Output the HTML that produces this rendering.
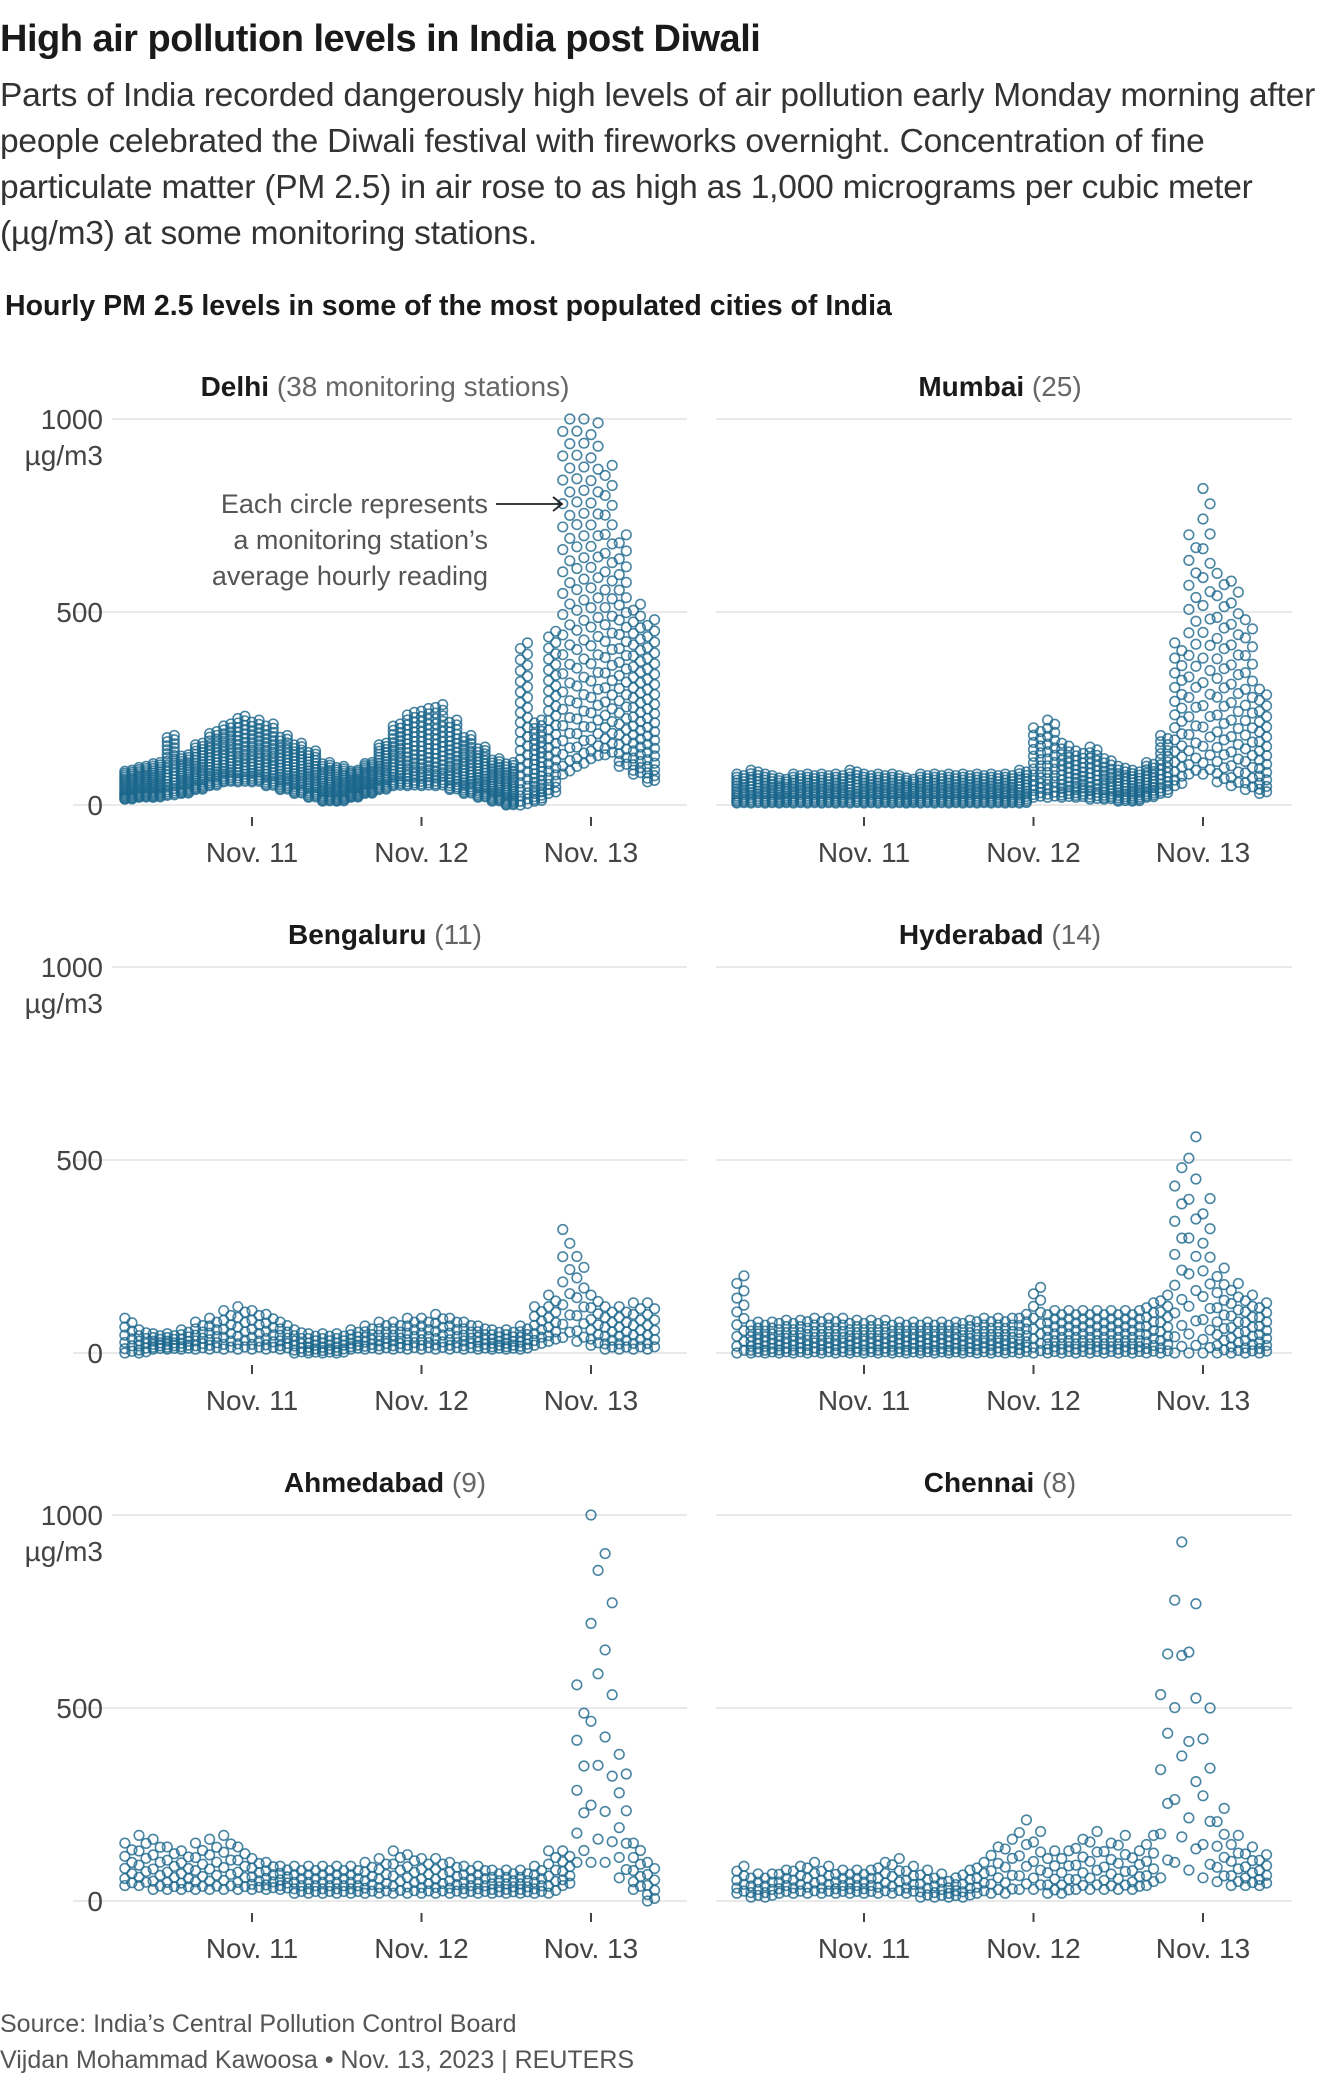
<!DOCTYPE html>
<html><head><meta charset="utf-8">
<style>
html,body{margin:0;padding:0;background:#fff;}
body{width:1320px;height:2098px;position:relative;overflow:hidden;font-family:"Liberation Sans",sans-serif;color:#222;}
.t{position:absolute;left:0;white-space:nowrap;}
</style></head><body>
<div class="t" style="top:18px;font-size:38px;font-weight:bold;color:#1a1a1a;letter-spacing:-0.5px;">High air pollution levels in India post Diwali</div>
<div class="t" style="top:73px;font-size:33.5px;line-height:46px;color:#333;letter-spacing:-0.2px;">Parts of India recorded dangerously high levels of air pollution early Monday morning after<br>people celebrated the Diwali festival with fireworks overnight. Concentration of fine<br>particulate matter (PM 2.5) in air rose to as high as 1,000 micrograms per cubic meter<br>(µg/m3) at some monitoring stations.</div>
<div class="t" style="top:290px;left:5px;font-size:28.5px;font-weight:bold;color:#1a1a1a;">Hourly PM 2.5 levels in some of the most populated cities of India</div>
<div class="t" style="top:2010px;font-size:25px;color:#555;">Source: India’s Central Pollution Control Board</div>
<div class="t" style="top:2046px;font-size:25px;color:#555;">Vijdan Mohammad Kawoosa • Nov. 13, 2023 | REUTERS</div>
<svg id="chart" width="1320" height="2098" style="position:absolute;left:0;top:0;" xmlns="http://www.w3.org/2000/svg"></svg>
<script>
// Data: 2-hourly readings starting Nov 10 06:00 (hours since Nov 10 00:00)
const startHour = 6;
const stepHours = 2;
const cities = ["Delhi","Mumbai","Bengaluru","Hyderabad","Ahmedabad","Chennai"];
const stations = [38,25,11,14,9,8];
const dayLabels = ["Nov. 11","Nov. 12","Nov. 13"];
const yTicks = [0,500,1000];
const delhiLow  = [15,20,20,25,30,40,50,60,60,60,50,40,30,20,10,10,20,30,40,50,50,50,50,40,30,20,10,0,0,10,30,80,100,120,130,100,80,60];
const delhiHigh = [90,100,110,180,130,160,190,210,230,220,210,180,160,140,110,100,90,110,160,210,240,250,260,220,180,150,120,110,420,220,450,1000,1000,990,880,700,520,480];
const mumbaiLow  = [5,5,5,5,5,5,5,5,5,5,5,5,5,5,5,5,5,5,5,5,5,20,20,20,20,15,15,10,10,20,30,50,80,80,60,50,40,30];
const mumbaiHigh = [80,90,80,70,80,80,80,80,90,80,80,80,70,80,80,80,80,80,80,80,90,200,220,160,140,150,120,100,90,110,180,420,700,820,600,580,480,300];
const bengaluruLow  = [0,0,10,10,10,10,10,10,10,10,10,10,0,0,0,0,10,10,10,10,10,10,10,10,10,10,10,10,10,20,30,40,30,20,10,10,10,10];
const bengaluruHigh = [90,60,50,50,60,80,90,110,120,110,100,80,60,50,50,50,60,70,80,80,90,90,100,90,80,70,60,60,70,120,150,320,250,150,120,120,130,130];
const hyderabadLow  = [0,0,0,0,0,0,0,0,0,0,0,0,0,0,0,0,0,0,0,0,0,0,0,0,0,0,0,0,0,0,0,0,0,0,0,0,0,0];
const hyderabadHigh = [200,80,80,85,85,90,90,90,85,85,85,80,80,80,80,80,85,90,90,90,100,170,110,110,110,110,110,110,110,130,150,480,560,400,220,180,150,130];
const ahmedabadLow  = [40,40,30,30,30,30,30,30,30,30,30,30,20,20,20,20,20,20,20,20,20,20,20,20,20,20,20,20,20,20,20,40,100,100,100,60,30,0];
const ahmedabadHigh = [150,170,160,140,130,150,160,170,140,110,100,90,90,90,90,90,90,100,110,130,120,110,110,100,90,90,80,80,80,90,130,130,560,1000,900,380,150,100];
const chennaiLow  = [20,10,10,20,20,20,20,20,20,20,20,20,20,10,10,10,10,20,20,20,30,30,20,20,30,30,30,30,30,40,60,100,80,60,50,40,40,40];
const chennaiHigh = [90,70,70,80,90,100,90,80,80,80,100,110,90,80,70,60,80,100,140,160,210,180,130,130,160,180,150,170,130,170,640,930,770,500,240,170,140,120];
const lows = [delhiLow,mumbaiLow,bengaluruLow,hyderabadLow,ahmedabadLow,chennaiLow];
const highs = [delhiHigh,mumbaiHigh,bengaluruHigh,hyderabadHigh,ahmedabadHigh,chennaiHigh];

const NS="http://www.w3.org/2000/svg";
const svg=document.getElementById('chart');
function mk(tag,attrs,parent){const e=document.createElementNS(NS,tag);for(const k in attrs)e.setAttribute(k,attrs[k]);(parent||svg).appendChild(e);return e;}
const pxPerDay=169.5;
function xScale(col,h){return 252+col*612+(h-24)*pxPerDay/24;}
function yScale(row,v){const y0=805+row*548;return y0-v*386/1000;}

cities.forEach((city,i)=>{
  const col=i%2,row=Math.floor(i/2);
  const g=mk('g',{});
  
  
  const gx0=col?716:73, gx1=col?1292:687;
  yTicks.forEach(t=>{
    const l=mk('line',{x1:(t===1000&&col===0)?112:gx0,x2:gx1,y1:yScale(row,t),y2:yScale(row,t),stroke:'#dcdcdc','stroke-width':1.3},g);
    
    
    if(col===0){
      const tx=mk('text',{x:103,y:yScale(row,t)+10,'text-anchor':'end','font-size':28,fill:'#444'},g);
      tx.textContent=t;
      
      
    }
  });
  if(col===0){
    const u=mk('text',{x:103,y:yScale(row,1000)+46,'text-anchor':'end','font-size':28,fill:'#444'},g);
    u.textContent='µg/m3';
    
    
  }
  dayLabels.forEach((d,k)=>{
    const x=xScale(col,24*(k+1));
    const tk=mk('line',{x1:x,x2:x,y1:yScale(row,0)+12,y2:yScale(row,0)+21,stroke:'#444','stroke-width':2},g);
    
    
    const tx=mk('text',{x:x,y:yScale(row,0)+57,'text-anchor':'middle','font-size':28,fill:'#444'},g);
    tx.textContent=d;
    
    
  });
  const tt=mk('text',{x:col?1000:385,y:396+row*548,'text-anchor':'middle','font-size':28,fill:'#1a1a1a'},g);
  
  
  const b=mk('tspan',{'font-weight':'bold'},tt);b.textContent=city;
  const s=mk('tspan',{fill:'#666'},tt);s.textContent=i===0?' (38 monitoring stations)':' ('+stations[i]+')';
  const n=stations[i];
  lows[i].forEach((lo,j)=>{
    const hi=highs[i][j];
    const h=startHour+j*stepHours;
    for(let k=0;k<n;k++){
      const f=Math.pow(k/(n-1),1.3);
      const v=lo+(hi-lo)*f;
      const c=mk('circle',{cx:xScale(col,h+(k%2)),cy:yScale(row,v),r:4.8,fill:'none',stroke:'#1b668c','stroke-width':1.6,'stroke-opacity':0.8},g);
      
      
    }
  });
});
// annotation
const ann=['Each circle represents','a monitoring station’s','average hourly reading'];
ann.forEach((a,k)=>{
  const t=mk('text',{x:488,y:513+k*36,'text-anchor':'end','font-size':27,fill:'#555'});
  t.textContent=a;
  
  
});
const ar=mk('path',{d:'M496 504 H562 M553 497 L562 504 L553 511',stroke:'#222','stroke-width':1.8,fill:'none'});


</script>
</body></html>
